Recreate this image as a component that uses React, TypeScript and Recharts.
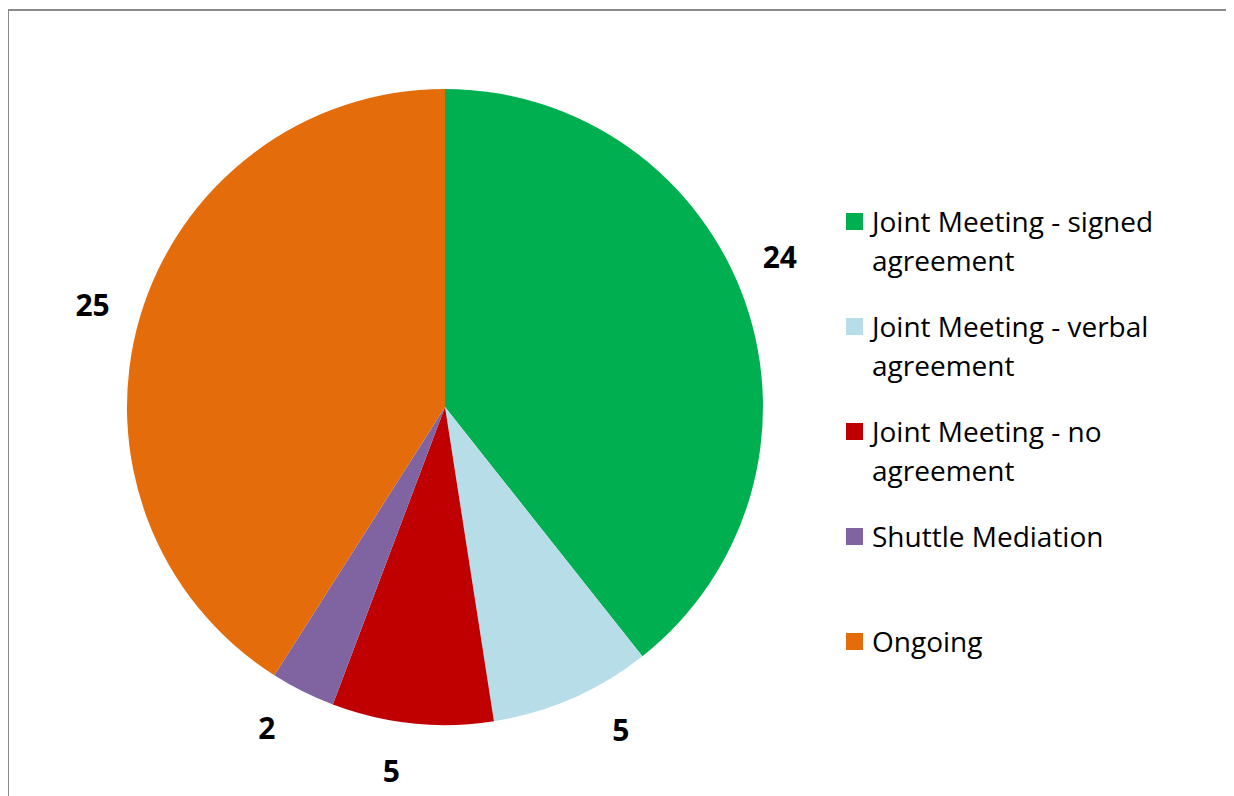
import { Cell, Legend, Pie, PieChart } from "recharts";

const categories = [
  "Joint Meeting - signed agreement",
  "Joint Meeting - verbal agreement",
  "Joint Meeting - no agreement",
  "Shuttle Mediation",
  "Ongoing",
];
const counts = [24, 5, 5, 2, 25];
const colors = ["#00B050", "#B7DEE8", "#C00000", "#8064A2", "#E46C0A"];

const data = categories.map((name, i) => ({ name, value: counts[i] }));

// small per-slice angle nudges (deg) for the value labels, like the original layout
const labelNudge = [5, 5, -2.5, -2.5, 0];

const RADIAN = Math.PI / 180;
const FONT = "'Open Sans', 'Noto Sans', sans-serif";

function renderLabel(props: any) {
  const { cx, cy, midAngle, outerRadius, value, index } = props;
  const r = outerRadius + 49;
  const a = midAngle + (labelNudge[index] ?? 0);
  const x = cx + r * Math.cos(-a * RADIAN);
  const y = cy + r * Math.sin(-a * RADIAN);
  return (
    <text
      x={x}
      y={y}
      textAnchor="middle"
      dominantBaseline="central"
      fill="#000"
      fontFamily={FONT}
      fontWeight={700}
      fontSize={30}
    >
      {value}
    </text>
  );
}

function LegendContent() {
  return (
    <div style={{ fontFamily: FONT, fontSize: 28, lineHeight: "39px", color: "#000" }}>
      {data.map((d, i) => (
        <div key={d.name} style={{ display: "flex", height: 105, alignItems: "flex-start" }}>
          <span
            style={{
              width: 17,
              height: 17,
              background: colors[i],
              marginTop: 11,
              marginRight: 9,
              flex: "none",
            }}
          />
          <span style={{ width: 310 }}>{d.name}</span>
        </div>
      ))}
    </div>
  );
}

export default function App() {
  return (
    <div style={{ position: "relative", width: 1226, height: 788 }}>
      <div
        style={{
          position: "absolute",
          left: -1,
          top: 1,
          right: -40,
          bottom: -40,
          borderLeft: "2px solid #8a8a8a",
          borderTop: "2px solid #8a8a8a",
        }}
      />
      <PieChart width={1226} height={788} style={{ position: "absolute", left: 0, top: 0 }}>
        <Pie
          data={data}
          dataKey="value"
          nameKey="name"
          cx={432}
          cy={394}
          outerRadius={318}
          startAngle={90}
          endAngle={-270}
          stroke="none"
          label={renderLabel}
          labelLine={false}
          isAnimationActive={false}
        >
          {data.map((d, i) => (
            <Cell key={d.name} fill={colors[i]} />
          ))}
        </Pie>
        <Legend
          layout="vertical"
          align="right"
          verticalAlign="top"
          content={<LegendContent />}
          wrapperStyle={{ position: "absolute", left: 838, top: 194, width: 370 }}
        />
      </PieChart>
    </div>
  );
}
